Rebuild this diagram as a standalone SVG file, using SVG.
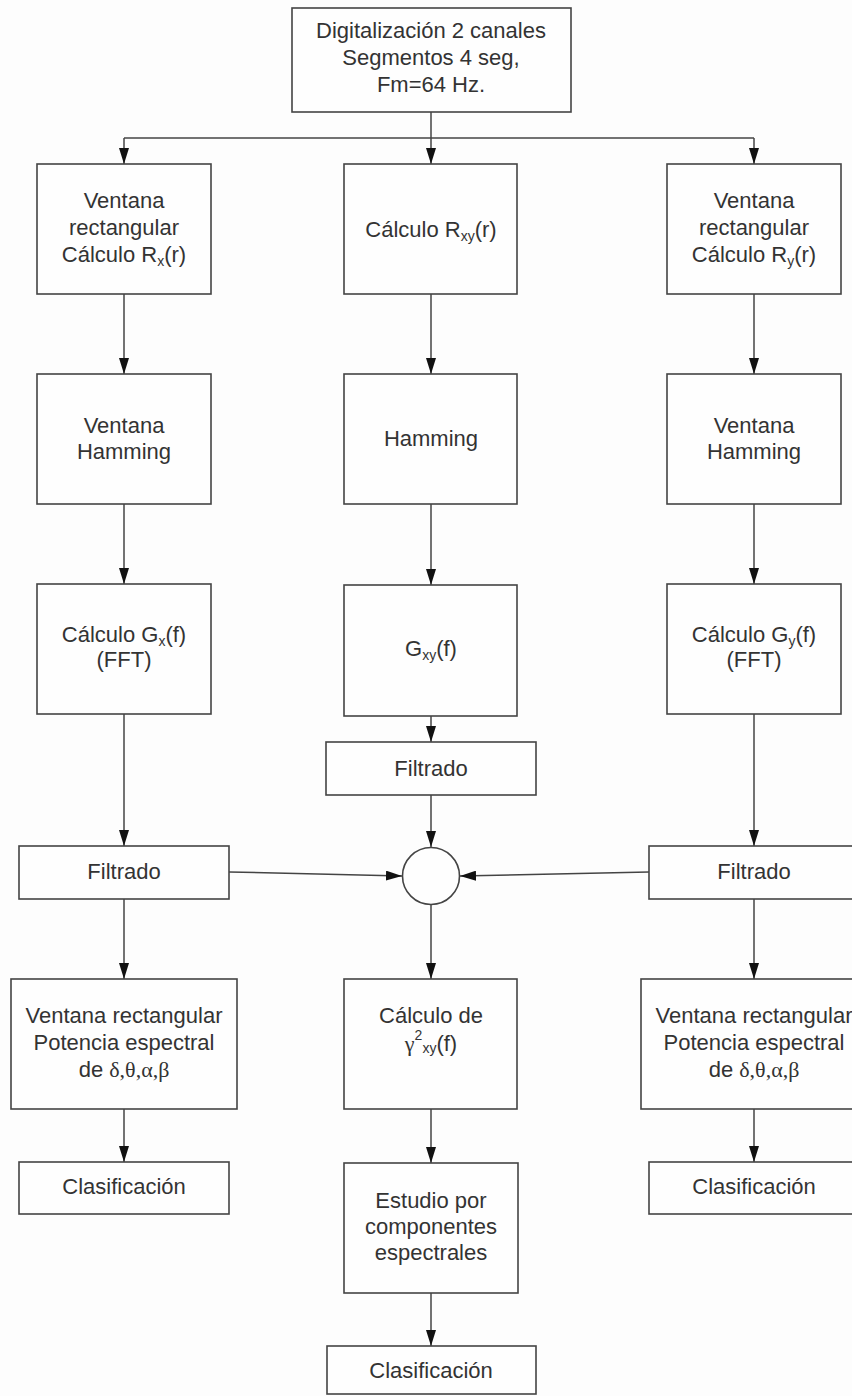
<svg xmlns="http://www.w3.org/2000/svg" width="852" height="1396" viewBox="0 0 852 1396">
<defs>
<marker id="ah" markerUnits="userSpaceOnUse" markerWidth="16" markerHeight="10" refX="16" refY="5" orient="auto">
<path d="M0,0 L16,5 L0,10 z" fill="#111"/>
</marker>
<style>
.box{fill:#fefefe;stroke:#444;stroke-width:1.6}
.t{font-family:"Liberation Sans",Arial,sans-serif;font-size:22px;fill:#333;text-anchor:middle}
.g{font-family:"Liberation Serif","Times New Roman",serif}
.sub{font-size:14px}
.conn{fill:none;stroke:#444;stroke-width:1.5}
.arr{marker-end:url(#ah)}
</style>
</defs>
<rect width="852" height="1396" fill="#fdfdfd"/>

<g id="connectors">
<line class="conn arr" x1="431" y1="112" x2="431" y2="164"/>
<line class="conn" x1="124" y1="138" x2="754" y2="138"/>
<line class="conn arr" x1="124" y1="138" x2="124" y2="164"/>
<line class="conn arr" x1="754" y1="138" x2="754" y2="164"/>
<line class="conn arr" x1="124" y1="294" x2="124" y2="374"/>
<line class="conn arr" x1="431" y1="294" x2="431" y2="374"/>
<line class="conn arr" x1="754" y1="294" x2="754" y2="374"/>
<line class="conn arr" x1="124" y1="504" x2="124" y2="584"/>
<line class="conn arr" x1="431" y1="504" x2="431" y2="585"/>
<line class="conn arr" x1="754" y1="504" x2="754" y2="584"/>
<line class="conn arr" x1="124" y1="714" x2="124" y2="846"/>
<line class="conn arr" x1="431" y1="716" x2="431" y2="742"/>
<line class="conn arr" x1="754" y1="714" x2="754" y2="846"/>
<line class="conn arr" x1="431" y1="795" x2="431" y2="847"/>
<line class="conn arr" x1="229" y1="872" x2="402" y2="876"/>
<line class="conn arr" x1="649" y1="872" x2="460" y2="876"/>
<line class="conn arr" x1="124" y1="899" x2="124" y2="979"/>
<line class="conn arr" x1="431" y1="904" x2="431" y2="979"/>
<line class="conn arr" x1="754" y1="899" x2="754" y2="979"/>
<line class="conn arr" x1="124" y1="1109" x2="124" y2="1162"/>
<line class="conn arr" x1="431" y1="1109" x2="431" y2="1163"/>
<line class="conn arr" x1="754" y1="1109" x2="754" y2="1162"/>
<line class="conn arr" x1="431" y1="1293" x2="431" y2="1346"/>
</g>

<g id="n-top">
<rect class="box" x="292" y="8" width="279" height="104"/>
<text class="t" x="431" y="38">Digitalización 2 canales</text>
<text class="t" x="431" y="65">Segmentos 4 seg,</text>
<text class="t" x="431" y="92">Fm=64 Hz.</text>
</g>

<g id="n-rx">
<rect class="box" x="37" y="164" width="174" height="130"/>
<text class="t" x="124" y="208">Ventana</text>
<text class="t" x="124" y="235">rectangular</text>
<text class="t" x="124" y="262">Cálculo R<tspan class="sub" dy="4">x</tspan><tspan dy="-4">(r)</tspan></text>
</g>
<g id="n-rxy">
<rect class="box" x="344" y="164" width="173" height="130"/>
<text class="t" x="431" y="237">Cálculo R<tspan class="sub" dy="4">xy</tspan><tspan dy="-4">(r)</tspan></text>
</g>
<g id="n-ry">
<rect class="box" x="667" y="164" width="174" height="130"/>
<text class="t" x="754" y="208">Ventana</text>
<text class="t" x="754" y="235">rectangular</text>
<text class="t" x="754" y="262">Cálculo R<tspan class="sub" dy="4">y</tspan><tspan dy="-4">(r)</tspan></text>
</g>

<g id="n-hx">
<rect class="box" x="37" y="374" width="174" height="130"/>
<text class="t" x="124" y="433">Ventana</text>
<text class="t" x="124" y="459">Hamming</text>
</g>
<g id="n-hxy">
<rect class="box" x="344" y="374" width="173" height="130"/>
<text class="t" x="431" y="446">Hamming</text>
</g>
<g id="n-hy">
<rect class="box" x="667" y="374" width="174" height="130"/>
<text class="t" x="754" y="433">Ventana</text>
<text class="t" x="754" y="459">Hamming</text>
</g>

<g id="n-gx">
<rect class="box" x="37" y="584" width="174" height="130"/>
<text class="t" x="124" y="642">Cálculo G<tspan class="sub" dy="4">x</tspan><tspan dy="-4">(f)</tspan></text>
<text class="t" x="124" y="667">(FFT)</text>
</g>
<g id="n-gxy">
<rect class="box" x="344" y="585" width="173" height="131"/>
<text class="t" x="431" y="656">G<tspan class="sub" dy="4">xy</tspan><tspan dy="-4">(f)</tspan></text>
</g>
<g id="n-gy">
<rect class="box" x="667" y="584" width="174" height="130"/>
<text class="t" x="754" y="642">Cálculo G<tspan class="sub" dy="4">y</tspan><tspan dy="-4">(f)</tspan></text>
<text class="t" x="754" y="667">(FFT)</text>
</g>

<g id="n-fxy">
<rect class="box" x="326" y="742" width="210" height="53"/>
<text class="t" x="431" y="776">Filtrado</text>
</g>
<g id="n-fx">
<rect class="box" x="19" y="846" width="210" height="53"/>
<text class="t" x="124" y="879">Filtrado</text>
</g>
<g id="n-sum">
<circle class="box" cx="431" cy="876" r="28.5"/>
</g>
<g id="n-fy">
<rect class="box" x="649" y="846" width="220" height="53"/>
<text class="t" x="754" y="879">Filtrado</text>
</g>

<g id="n-px">
<rect class="box" x="11" y="979" width="226" height="130"/>
<text class="t" x="124" y="1023">Ventana rectangular</text>
<text class="t" x="124" y="1050">Potencia espectral</text>
<text class="t" x="124" y="1077">de <tspan class="g">δ,θ,α,β</tspan></text>
</g>
<g id="n-coh">
<rect class="box" x="344" y="979" width="173" height="130"/>
<text class="t" x="431" y="1023">Cálculo de</text>
<text class="t" x="431" y="1051"><tspan class="g">γ</tspan><tspan class="sub" dy="-11">2</tspan><tspan class="sub" dy="13">xy</tspan><tspan dy="-2">(f)</tspan></text>
</g>
<g id="n-py">
<rect class="box" x="641" y="979" width="226" height="130"/>
<text class="t" x="754" y="1023">Ventana rectangular</text>
<text class="t" x="754" y="1050">Potencia espectral</text>
<text class="t" x="754" y="1077">de <tspan class="g">δ,θ,α,β</tspan></text>
</g>

<g id="n-cx">
<rect class="box" x="19" y="1162" width="210" height="52"/>
<text class="t" x="124" y="1194">Clasificación</text>
</g>
<g id="n-est">
<rect class="box" x="344" y="1163" width="174" height="130"/>
<text class="t" x="431" y="1208">Estudio por</text>
<text class="t" x="431" y="1234">componentes</text>
<text class="t" x="431" y="1260">espectrales</text>
</g>
<g id="n-cy">
<rect class="box" x="649" y="1162" width="220" height="52"/>
<text class="t" x="754" y="1194">Clasificación</text>
</g>
<g id="n-cc">
<rect class="box" x="327" y="1346" width="209" height="48"/>
<text class="t" x="431" y="1378">Clasificación</text>
</g>
</svg>
